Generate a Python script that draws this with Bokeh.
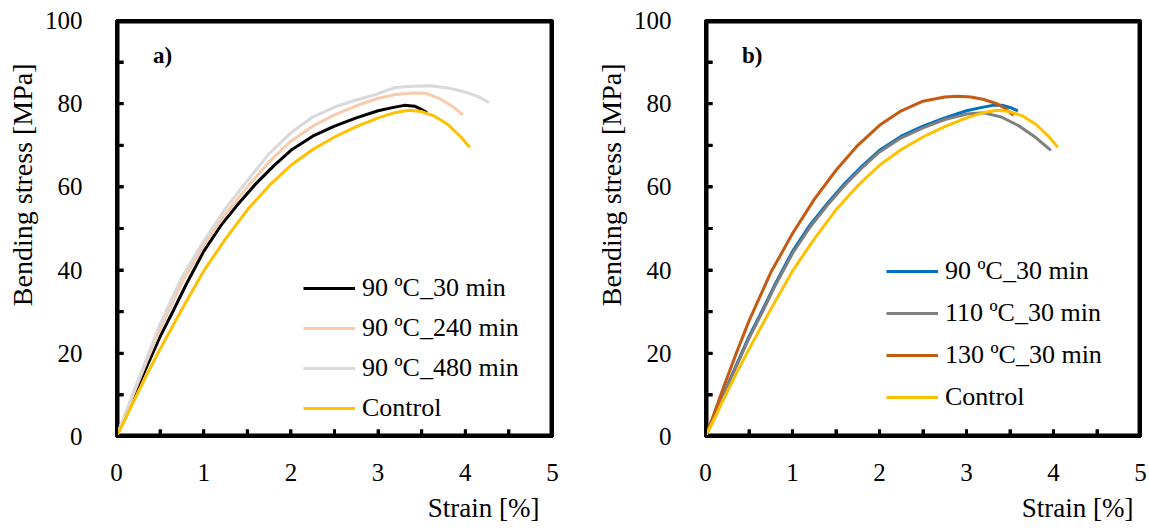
from bokeh.plotting import figure
from bokeh.models import FixedTicker, Legend, LegendItem, Label, Range1d, Title
from bokeh.layouts import row
from bokeh.embed import file_html
from bokeh.resources import INLINE

# ---------------- data: panel a) ----------------
a_90_30_x = [0, 0.1, 0.2, 0.35, 0.5, 0.66, 0.8, 1.0, 1.2, 1.4, 1.6, 1.8, 2.0, 2.25, 2.5, 2.75, 3.0, 3.15, 3.3, 3.42, 3.5, 3.56]
a_90_30_y = [0, 4.8, 9.8, 17, 24, 30.6, 36.6, 44.5, 50.8, 56, 60.8, 65, 68.8, 72.2, 74.6, 76.6, 78.3, 79.0, 79.6, 79.4, 78.6, 77.9]

a_90_240_x = [0, 0.1, 0.2, 0.35, 0.5, 0.75, 1.0, 1.25, 1.5, 1.75, 2.0, 2.25, 2.5, 2.75, 3.0, 3.2, 3.4, 3.55, 3.7, 3.85, 3.97]
a_90_240_y = [0, 5.2, 10.5, 18.3, 25.8, 37, 46, 53.5, 60, 66, 71, 74.6, 77.3, 79.5, 81.3, 82.2, 82.6, 82.5, 81.3, 79.4, 77.3]

a_90_480_x = [0, 0.1, 0.2, 0.35, 0.5, 0.75, 1.0, 1.25, 1.5, 1.75, 2.0, 2.25, 2.5, 2.75, 3.0, 3.1, 3.2, 3.4, 3.6, 3.8, 4.0, 4.15, 4.27]
a_90_480_y = [0, 5.4, 11, 19, 27, 38.3, 47, 54.8, 61.5, 68, 73, 76.8, 79.2, 80.9, 82.4, 83.2, 83.9, 84.2, 84.3, 83.8, 82.8, 81.7, 80.3]

control_x = [0, 0.1, 0.2, 0.35, 0.5, 0.75, 1.0, 1.25, 1.5, 1.75, 2.0, 2.25, 2.5, 2.75, 3.0, 3.2, 3.35, 3.5, 3.65, 3.8, 3.95, 4.05]
control_y = [0, 4.2, 8.6, 15, 21, 30.6, 39.8, 47.5, 54.5, 60.3, 65.2, 69, 72, 74.5, 76.6, 77.9, 78.4, 78.1, 77, 75, 72, 69.5]

# ---------------- data: panel b) ----------------
b_90_30_x = [0, 0.1, 0.2, 0.35, 0.5, 0.66, 0.8, 1.0, 1.2, 1.4, 1.6, 1.8, 2.0, 2.25, 2.5, 2.75, 3.0, 3.15, 3.3, 3.42, 3.5, 3.59]
b_90_30_y = [0, 4.8, 9.8, 17, 24, 30.6, 36.6, 44.5, 50.8, 56, 60.8, 65, 68.8, 72.2, 74.6, 76.6, 78.3, 79.0, 79.6, 79.6, 79.1, 78.3]

b_110_30_x = [0, 0.1, 0.2, 0.35, 0.5, 0.66, 0.8, 1.0, 1.2, 1.4, 1.6, 1.8, 2.0, 2.25, 2.5, 2.75, 3.0, 3.2, 3.4, 3.6, 3.8, 3.97]
b_110_30_y = [0, 4.7, 9.6, 16.7, 23.6, 30.2, 36.2, 44, 50.3, 55.6, 60.4, 64.6, 68.4, 71.8, 74.2, 76.2, 77.5, 77.8, 76.8, 74.7, 71.8, 68.8]

b_130_30_x = [0, 0.1, 0.2, 0.35, 0.5, 0.75, 1.0, 1.25, 1.5, 1.75, 2.0, 2.25, 2.5, 2.75, 2.9, 3.05, 3.2, 3.35, 3.45, 3.54]
b_130_30_y = [0, 5.6, 11.4, 19.8, 27.8, 39.4, 48.8, 57, 64, 70, 74.8, 78.3, 80.6, 81.6, 81.8, 81.6, 81.0, 80.0, 78.8, 77.2]

b_control_x = list(control_x)
b_control_y = list(control_y)

x_ticks = [0, 1, 2, 3, 4, 5]
x_minor = [0.5, 1.5, 2.5, 3.5, 4.5]
y_ticks = [0, 20, 40, 60, 80, 100]
y_minor = [10, 30, 50, 70, 90]

series_a = [
    ("90 ºC_30 min", a_90_30_x, a_90_30_y, "#000000"),
    ("90 ºC_240 min", a_90_240_x, a_90_240_y, "#F8CBAD"),
    ("90 ºC_480 min", a_90_480_x, a_90_480_y, "#D9D9D9"),
    ("Control", control_x, control_y, "#FFC000"),
]
series_b = [
    ("90 ºC_30 min", b_90_30_x, b_90_30_y, "#0070C0"),
    ("110 ºC_30 min", b_110_30_x, b_110_30_y, "#7F7F7F"),
    ("130 ºC_30 min", b_130_30_x, b_130_30_y, "#C55A11"),
    ("Control", b_control_x, b_control_y, "#FFC000"),
]

FONT = "Liberation Serif"
FRAME_H = 418  # px
TICK_PX = 7


def make_panel(series, width, bl, br, letter, legend_loc, legend_spacing, xtitle_off):
    frame_w = width - bl - br
    x0, x1 = x_ticks[0], x_ticks[-1]
    y0, y1 = y_ticks[0], y_ticks[-1]
    p = figure(width=width, height=530, output_backend="svg", toolbar_location=None,
               x_range=Range1d(x0, x1), y_range=Range1d(y0, y1),
               min_border_left=bl, min_border_right=br, min_border_top=20, min_border_bottom=92)
    p.title.visible = False
    p.grid.visible = False
    p.outline_line_color = "black"
    p.outline_line_width = 3
    p.xaxis.ticker = FixedTicker(ticks=list(x_ticks), minor_ticks=list(x_minor))
    p.yaxis.ticker = FixedTicker(ticks=list(y_ticks), minor_ticks=list(y_minor))
    for ax in (p.xaxis[0], p.yaxis[0]):
        ax.axis_line_width = 3
        ax.major_tick_in = TICK_PX
        ax.major_tick_out = 0
        ax.minor_tick_in = TICK_PX
        ax.minor_tick_out = 0
        ax.major_tick_line_width = 3
        ax.minor_tick_line_width = 3
        ax.axis_line_color = "black"
        ax.major_tick_line_color = "black"
        ax.minor_tick_line_color = "black"
        ax.major_label_text_color = "black"
        ax.major_label_text_font = FONT
        ax.major_label_text_font_size = "25px"
    p.xaxis[0].major_label_standoff = 27
    p.yaxis[0].major_label_standoff = 34

    # px -> data conversions for the frame box and ticks
    dx = (x1 - x0) / frame_w
    dy = (y1 - y0) / FRAME_H
    # frame box drawn 1.5 px inside the frame edges so it is not clipped away
    bx0, bx1 = x0 + 1.5 * dx, x1 - 1.5 * dx
    by0, by1 = y0 + 1.5 * dy, y1 - 1.5 * dy
    p.line([bx0, bx1, bx1, bx0, bx0], [by0, by0, by1, by1, by0],
           line_color="black", line_width=3, line_join="miter")
    xt = sorted([t for t in x_ticks if x0 < t < x1] + list(x_minor))
    yt = sorted([t for t in y_ticks if y0 < t < y1] + list(y_minor))
    p.segment(x0=xt, y0=[y0] * len(xt), x1=xt, y1=[y0 + TICK_PX * dy] * len(xt),
              line_color="black", line_width=3)
    p.segment(x0=[x0] * len(yt), y0=yt, x1=[x0 + TICK_PX * dx] * len(yt), y1=yt,
              line_color="black", line_width=3)

    items = []
    for name, xs, ys, col in series:
        r = p.line(xs, ys, line_color=col, line_width=3)
        items.append(LegendItem(label=name, renderers=[r]))

    p.add_layout(Legend(items=items, location=legend_loc,
                        border_line_color=None, background_fill_alpha=0,
                        glyph_width=52, glyph_height=30, label_height=30, label_standoff=7,
                        spacing=legend_spacing, padding=0, margin=0,
                        label_text_font=FONT, label_text_font_size="26px", label_text_color="black"))

    p.add_layout(Label(x=0.42, y=91.5, text=letter, text_font=FONT, text_font_size="23px",
                       text_font_style="bold", text_color="black", text_baseline="alphabetic"))

    p.add_layout(Title(text="Bending stress [MPa]", align="right", offset=43, standoff=8,
                       text_font=FONT, text_font_size="28px", text_font_style="normal",
                       text_color="black"), "left")
    p.add_layout(Title(text="Strain [%]", align="right", offset=xtitle_off, standoff=15,
                       text_font=FONT, text_font_size="27px", text_font_style="normal",
                       text_color="black"), "below")
    return p


p1 = make_panel(series_a, 580, 116, 28, "a)", (187, 13), 10, 13)
p2 = make_panel(series_b, 569, 125, 9, "b)", (181, 24), 12, 7)

layout = row(p1, p2)
open("out.html", "w").write(file_html(layout, INLINE))
